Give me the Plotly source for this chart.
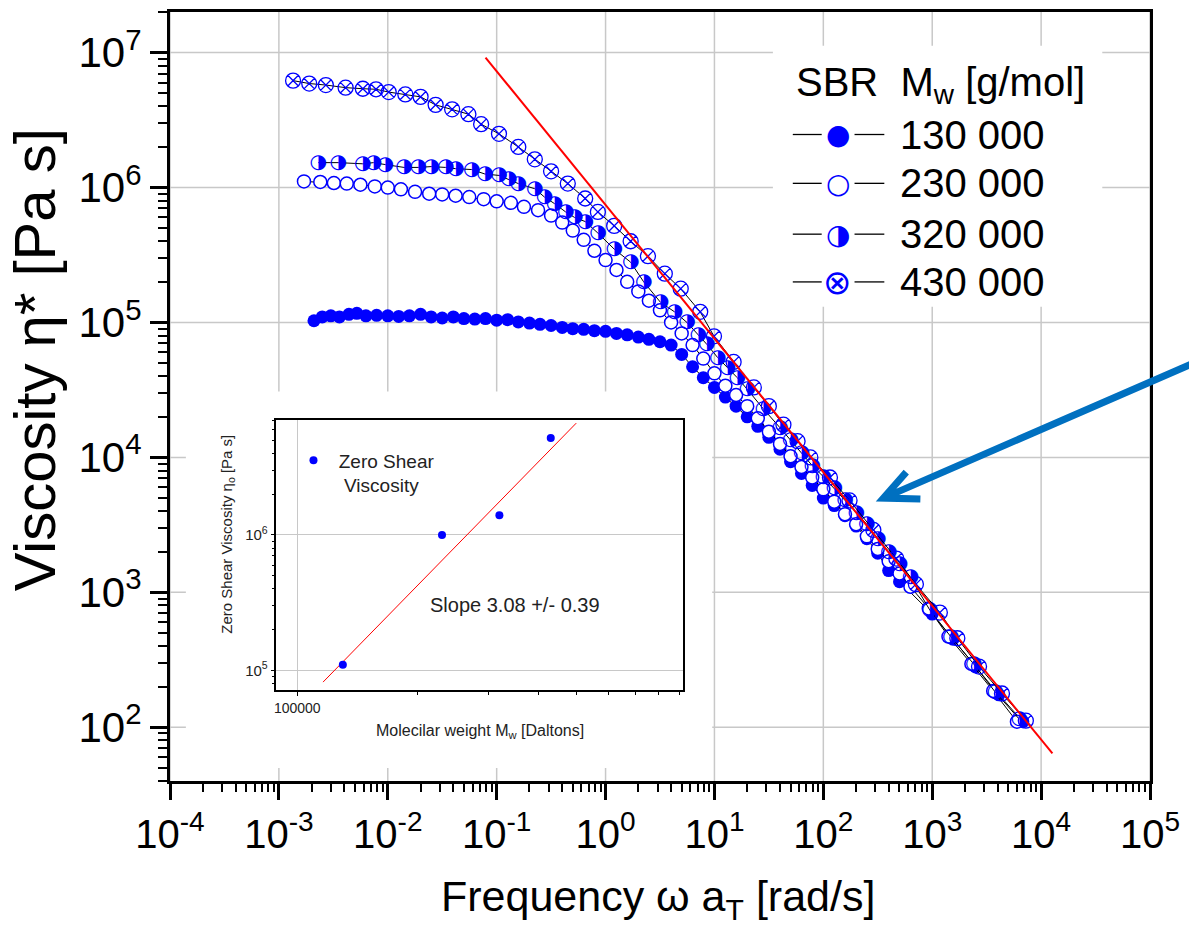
import plotly.graph_objects as go

# ---------------- main chart data ----------------
freq_130k = [0.0021, 0.0025, 0.0030, 0.0036, 0.0044, 0.0052, 0.0063, 0.0079, 0.010, 0.0126,
             0.0158, 0.020, 0.025, 0.0316, 0.040, 0.050, 0.063, 0.079, 0.10, 0.126,
             0.158, 0.20, 0.25, 0.316, 0.40, 0.50, 0.63, 0.79, 1.0, 1.26,
             1.58, 2.0, 2.5, 3.16, 4.0, 5.0, 6.3, 7.9, 10, 12.6,
             15.8, 20, 25, 31.6, 40, 50, 63, 79, 100, 126,
             158, 200, 251, 316, 398, 501, 1000, 1550, 2500, 4100, 6800]
eta_130k = [1.03e5, 1.10e5, 1.12e5, 1.10e5, 1.15e5, 1.17e5, 1.12e5, 1.13e5, 1.12e5, 1.11e5,
            1.12e5, 1.15e5, 1.10e5, 1.08e5, 1.10e5, 1.07e5, 1.06e5, 1.07e5, 1.04e5, 1.05e5,
            1.01e5, 9.9e4, 9.7e4, 9.5e4, 9.2e4, 9.0e4, 8.9e4, 8.7e4, 8.6e4, 8.3e4,
            8.1e4, 7.8e4, 7.5e4, 7.2e4, 6.8e4, 5.8e4, 4.7e4, 3.9e4, 3.3e4, 2.8e4,
            2.4e4, 2.0e4, 1.7e4, 1.41e4, 1.15e4, 9.3e3, 7.6e3, 6.2e3, 5.0e3, 4.4e3,
            3.7e3, 3.1e3, 2.5e3, 1.95e3, 1.45e3, 1.2e3, 690, 450, 280, 174, 110]

freq_230k = [0.0017, 0.0024, 0.0032, 0.0042, 0.0056, 0.0076, 0.010, 0.0132, 0.0178, 0.024,
             0.0316, 0.042, 0.056, 0.076, 0.10, 0.135, 0.178, 0.24, 0.316, 0.40,
             0.50, 0.63, 0.79, 1.0, 1.26, 1.58, 2.0, 2.5, 3.16, 4.0,
             5.0, 6.3, 7.9, 10, 12.6, 15.8, 20, 25, 31.6, 40,
             50, 63, 79, 100, 126, 158, 200, 251, 316, 398,
             501, 631, 930, 1410, 2290, 3630, 6000]
eta_230k = [1.11e6, 1.10e6, 1.08e6, 1.07e6, 1.05e6, 1.02e6, 1.0e6, 9.7e5, 9.3e5, 9.0e5,
            8.9e5, 8.7e5, 8.5e5, 8.2e5, 7.9e5, 7.7e5, 7.2e5, 6.8e5, 6.2e5, 5.5e5,
            4.8e5, 4.1e5, 3.4e5, 2.9e5, 2.45e5, 2.0e5, 1.7e5, 1.45e5, 1.23e5, 1.0e5,
            8.3e4, 6.8e4, 5.4e4, 4.2e4, 3.4e4, 2.9e4, 2.4e4, 1.95e4, 1.55e4, 1.26e4,
            1.02e4, 8.5e3, 7.1e3, 5.8e3, 4.7e3, 3.8e3, 3.2e3, 2.6e3, 2.1e3, 1.7e3,
            1.38e3, 1.1e3, 760, 470, 295, 186, 110]

freq_320k = [0.0023, 0.0035, 0.0059, 0.0074, 0.0095, 0.0141, 0.019, 0.025, 0.034, 0.042,
             0.059, 0.078, 0.105, 0.129, 0.158, 0.224, 0.275, 0.34, 0.43, 0.52,
             0.65, 0.85, 1.2, 1.7, 2.24, 3.2, 4.3, 5.6, 7.1, 8.5,
             10.7, 13.2, 16.2, 20, 28, 40, 50, 63, 79, 100,
             126, 158, 200, 251, 316, 398, 501, 631, 950, 1480,
             2400, 3800, 6300]
eta_320k = [1.53e6, 1.53e6, 1.50e6, 1.53e6, 1.48e6, 1.41e6, 1.41e6, 1.43e6, 1.41e6, 1.38e6,
            1.36e6, 1.26e6, 1.23e6, 1.15e6, 1.07e6, 9.8e5, 8.5e5, 7.6e5, 6.6e5, 6.0e5,
            5.6e5, 4.6e5, 3.5e5, 2.8e5, 2.0e5, 1.41e5, 1.2e5, 1.0e5, 8.1e4, 6.9e4,
            5.5e4, 4.6e4, 3.9e4, 3.2e4, 2.3e4, 1.66e4, 1.35e4, 1.07e4, 8.7e3, 7.2e3,
            5.9e3, 4.8e3, 3.9e3, 3.2e3, 2.5e3, 2.0e3, 1.62e3, 1.29e3, 740, 470,
            295, 182, 115]

freq_430k = [0.00135, 0.0019, 0.0027, 0.0041, 0.0059, 0.0078, 0.0102, 0.0145, 0.020, 0.0275,
             0.039, 0.055, 0.072, 0.105, 0.158, 0.224, 0.316, 0.45, 0.65, 0.85,
             1.2, 1.7, 2.45, 3.5, 4.9, 7.4, 9.9, 15, 23, 31.6,
             43, 58, 76, 115, 174, 288, 468, 708, 1175, 1700,
             2690, 4370, 7240]
eta_430k = [6.2e6, 5.9e6, 5.75e6, 5.5e6, 5.4e6, 5.35e6, 5.1e6, 4.9e6, 4.7e6, 4.1e6,
            3.8e6, 3.5e6, 2.95e6, 2.5e6, 2.0e6, 1.62e6, 1.32e6, 1.07e6, 8.3e5, 6.6e5,
            5.2e5, 4.0e5, 3.1e5, 2.3e5, 1.78e5, 1.2e5, 7.9e4, 5.1e4, 3.3e4, 2.4e4,
            1.75e4, 1.32e4, 1.0e4, 7.1e3, 4.8e3, 2.9e3, 1.78e3, 1.15e3, 708, 457,
            282, 178, 112]

# red power-law guide line (end points)
guide_freq = [0.079, 12700]
guide_eta = [9.2e6, 64]

series_labels = ["130 000", "230 000", "320 000", "430 000"]
legend_title = "SBR\u00a0 M<sub>w</sub> [g/mol]"

x_tickvals = [1e-4, 1e-3, 1e-2, 1e-1, 1e0, 1e1, 1e2, 1e3, 1e4, 1e5]
x_ticktext = ["10<sup>-4</sup>", "10<sup>-3</sup>", "10<sup>-2</sup>", "10<sup>-1</sup>", "10<sup>0</sup>",
              "10<sup>1</sup>", "10<sup>2</sup>", "10<sup>3</sup>", "10<sup>4</sup>", "10<sup>5</sup>"]
y_tickvals = [1e2, 1e3, 1e4, 1e5, 1e6, 1e7]
y_ticktext = ["10<sup>2</sup>", "10<sup>3</sup>", "10<sup>4</sup>", "10<sup>5</sup>", "10<sup>6</sup>", "10<sup>7</sup>"]

# ---------------- inset data ----------------
inset_mw = [130000, 230000, 320000, 430000]
inset_eta0 = [1.1e5, 1.0e6, 1.4e6, 5.2e6]
inset_fit_mw = [1.16e5, 4.98e5]
inset_fit_eta = [8.2e4, 6.7e6]
inset_x_tickvals = [1e5]
inset_x_ticktext = ["100000"]
inset_y_tickvals = [1e5, 1e6]
inset_y_ticktext = ["10<sup>5</sup>", "10<sup>6</sup>"]

BLUE = "#0000FF"
GRID = "#c8c8c8"
FONT = "Arial, Liberation Sans, Helvetica, sans-serif"
GLYPH_FONT = "DejaVu Sans"

x_minor = [m * 10.0 ** d for d in range(-4, 5) for m in range(2, 10)]
y_minor = [m * 10.0 ** d for d in range(1, 8) for m in range(2, 10)]
ix_minor = [m * 1e5 for m in range(2, 10)]
iy_minor = [m * 10.0 ** d for d in range(4, 7) for m in range(2, 10)]

fig = go.Figure()


def add_line(x, y):
    fig.add_trace(go.Scatter(x=x, y=y, mode="lines", line=dict(color="black", width=1),
                             showlegend=False, hoverinfo="skip"))


add_line(freq_130k, eta_130k)
fig.add_trace(go.Scatter(x=freq_130k, y=eta_130k, mode="markers", name=series_labels[0],
                         marker=dict(symbol="circle", size=13, color=BLUE, line=dict(width=0)),
                         showlegend=False))
add_line(freq_230k, eta_230k)
fig.add_trace(go.Scatter(x=freq_230k, y=eta_230k, mode="markers", name=series_labels[1],
                         marker=dict(symbol="circle", size=13, color="white",
                                     line=dict(color=BLUE, width=1.5)),
                         showlegend=False))
add_line(freq_320k, eta_320k)
fig.add_trace(go.Scatter(x=freq_320k, y=eta_320k, mode="text", name=series_labels[2],
                         text=["\u25d1"] * len(freq_320k), textposition="middle center",
                         textfont=dict(family=GLYPH_FONT, size=20, color=BLUE),
                         showlegend=False))
add_line(freq_430k, eta_430k)
fig.add_trace(go.Scatter(x=freq_430k, y=eta_430k, mode="markers", name=series_labels[3],
                         marker=dict(symbol="circle-x-open", size=15, color=BLUE,
                                     line=dict(color=BLUE, width=1.3)),
                         showlegend=False))

fig.add_trace(go.Scatter(x=guide_freq, y=guide_eta, mode="lines",
                         line=dict(color="#FF0000", width=2), showlegend=False, hoverinfo="skip"))

# inset traces
fig.add_trace(go.Scatter(x=inset_fit_mw, y=inset_fit_eta, mode="lines", xaxis="x2", yaxis="y2",
                         line=dict(color="#FF0000", width=1), showlegend=False, hoverinfo="skip"))
fig.add_trace(go.Scatter(x=inset_mw, y=inset_eta0, mode="markers", xaxis="x2", yaxis="y2",
                         name="\u00a0Zero Shear<br>\u00a0\u00a0Viscosity", legend="legend2",
                         marker=dict(symbol="circle", size=8, color=BLUE)))

axis_common = dict(type="log", showline=True, linecolor="black", linewidth=3, mirror=True,
                   ticks="outside", tickcolor="black", tickwidth=2.5,
                   showgrid=False, zeroline=False, tickmode="array")

fig.update_layout(
    width=1189, height=936,
    margin=dict(l=170, r=34, t=9, b=155),
    paper_bgcolor="white", plot_bgcolor="white",
    font=dict(family=FONT, color="black"),
    showlegend=True,
    xaxis=dict(**axis_common, range=[-4, 5], tickvals=x_tickvals, ticktext=x_ticktext,
               ticklen=16, tickfont=dict(size=40, family=FONT, color="black"),
               minor=dict(tickmode="array", tickvals=x_minor, ticks="outside", ticklen=8,
                          tickwidth=2, tickcolor="black", showgrid=False)),
    yaxis=dict(**axis_common, range=[1.60206, 7.30103], tickvals=y_tickvals, ticktext=y_ticktext,
               ticklen=17, tickfont=dict(size=42, family=FONT, color="black"),
               minor=dict(tickmode="array", tickvals=y_minor, ticks="outside", ticklen=9,
                          tickwidth=2, tickcolor="black", showgrid=False)),
    xaxis2=dict(type="log", domain=[0.1086, 0.5239], anchor="y2", range=[4.948, 5.965],
                tickmode="array", tickvals=inset_x_tickvals, ticktext=inset_x_ticktext,
                showline=True, linecolor="black", linewidth=1.5, mirror=True,
                ticks="outside", ticklen=4, tickwidth=1, tickcolor="black",
                showgrid=True, gridcolor=GRID, gridwidth=1, zeroline=False,
                tickfont=dict(size=14, family=FONT, color="#222222"),
                minor=dict(tickmode="array", tickvals=ix_minor, ticks="outside", ticklen=3,
                           tickwidth=1, tickcolor="black", showgrid=False)),
    yaxis2=dict(type="log", domain=[0.1179, 0.4689], anchor="x2", range=[4.853, 6.846],
                tickmode="array", tickvals=inset_y_tickvals, ticktext=inset_y_ticktext,
                showline=True, linecolor="black", linewidth=1.5, mirror=True,
                ticks="outside", ticklen=4, tickwidth=1, tickcolor="black",
                showgrid=True, gridcolor=GRID, gridwidth=1, zeroline=False,
                tickfont=dict(size=15, family=FONT, color="#222222"),
                minor=dict(tickmode="array", tickvals=iy_minor, ticks="outside", ticklen=3,
                           tickwidth=1, tickcolor="black", showgrid=False)),
    legend2=dict(x=0.126, y=0.4417, xanchor="left", yanchor="top", bgcolor="rgba(0,0,0,0)",
                 font=dict(size=19, family=FONT, color="#222222"), valign="top",
                 itemwidth=30, tracegroupgap=0),
)

shapes = []
# main grid lines at the decade ticks (placed through the axes' own scales)
for xv in x_tickvals:
    shapes.append(dict(type="line", xref="x", yref="y domain", x0=xv, x1=xv, y0=0, y1=1,
                       line=dict(color=GRID, width=1.5), layer="below"))
for yv in y_tickvals:
    shapes.append(dict(type="line", xref="x domain", yref="y", x0=0, x1=1, y0=yv, y1=yv,
                       line=dict(color=GRID, width=1.5), layer="below"))
# white backing boxes behind the inset and the legend (hide the grid there)
shapes.append(dict(type="rect", xref="x domain", yref="y domain", x0=0.0162, x1=0.5533,
                   y0=0.0168, y1=0.5065, fillcolor="white", line=dict(width=0), layer="below"))
shapes.append(dict(type="rect", xref="x domain", yref="y domain", x0=0.6152, x1=0.9513,
                   y0=0.6166, y1=0.956, fillcolor="white", line=dict(width=0), layer="below"))

# legend rows (paper coordinates)
row_y = [0.8407, 0.7772, 0.7111, 0.6490]
glyphs = ["\u25cf", "\u25cb", "\u25d1", "\u2297"]
glyph_sizes = [28, 28, 28, 34]
annotations = []
for yy, lab, g, gs in zip(row_y, series_labels, glyphs, glyph_sizes):
    shapes.append(dict(type="line", xref="paper", yref="paper", x0=0.6355, x1=0.665, y0=yy, y1=yy,
                       line=dict(color="black", width=1.3)))
    shapes.append(dict(type="line", xref="paper", yref="paper", x0=0.6985, x1=0.7289, y0=yy, y1=yy,
                       line=dict(color="black", width=1.3)))
    annotations.append(dict(xref="paper", yref="paper", x=0.6812, y=yy, text=g, showarrow=False,
                            xanchor="center", yanchor="middle",
                            font=dict(family=GLYPH_FONT, size=gs, color=BLUE)))
    annotations.append(dict(xref="paper", yref="paper", x=0.7431, y=yy, text=lab, showarrow=False,
                            xanchor="left", yanchor="middle",
                            font=dict(family=FONT, size=40, color="black")))
annotations.append(dict(xref="paper", yref="paper", x=0.6365, y=0.905, text=legend_title,
                        showarrow=False, xanchor="left", yanchor="middle",
                        font=dict(family=FONT, size=40, color="black")))

# blue arrow
shapes.append(dict(type="path", xref="paper", yref="paper",
                   path="M 1.0457 0.5440 L 0.7279 0.3679 M 0.7513 0.4016 L 0.7279 0.3679 L 0.7657 0.3666",
                   line=dict(color="#0070C0", width=7)))

# axis titles
annotations.append(dict(xref="paper", yref="paper", x=0.4975, y=-0.154,
                        text="Frequency \u03c9 a<sub>T</sub> [rad/s]", showarrow=False,
                        xanchor="center", yanchor="middle",
                        font=dict(family=FONT, size=43, color="black")))
annotations.append(dict(xref="paper", yref="paper", x=-0.138, y=0.548,
                        text="Viscosity \u03b7* [Pa s]", showarrow=False, textangle=-90,
                        xanchor="center", yanchor="middle",
                        font=dict(family=FONT, size=58, color="black")))
# inset titles and slope note
annotations.append(dict(xref="paper", yref="paper", x=0.3168, y=0.0648,
                        text="Molecilar weight M<sub>w</sub> [Daltons]", showarrow=False,
                        xanchor="center", yanchor="middle",
                        font=dict(family=FONT, size=16, color="#222222")))
annotations.append(dict(xref="paper", yref="paper", x=0.0589, y=0.3212,
                        text="Zero Shear Viscosity \u03b7<sub>o</sub> [Pa s]", showarrow=False,
                        textangle=-90, xanchor="center", yanchor="middle",
                        font=dict(family=FONT, size=15, color="#222222")))
annotations.append(dict(xref="paper", yref="paper", x=0.352, y=0.229,
                        text="Slope 3.08 +/- 0.39", showarrow=False,
                        xanchor="center", yanchor="middle",
                        font=dict(family=FONT, size=20, color="#222222")))

fig.update_layout(shapes=shapes, annotations=annotations)

fig.write_html("out.html")
